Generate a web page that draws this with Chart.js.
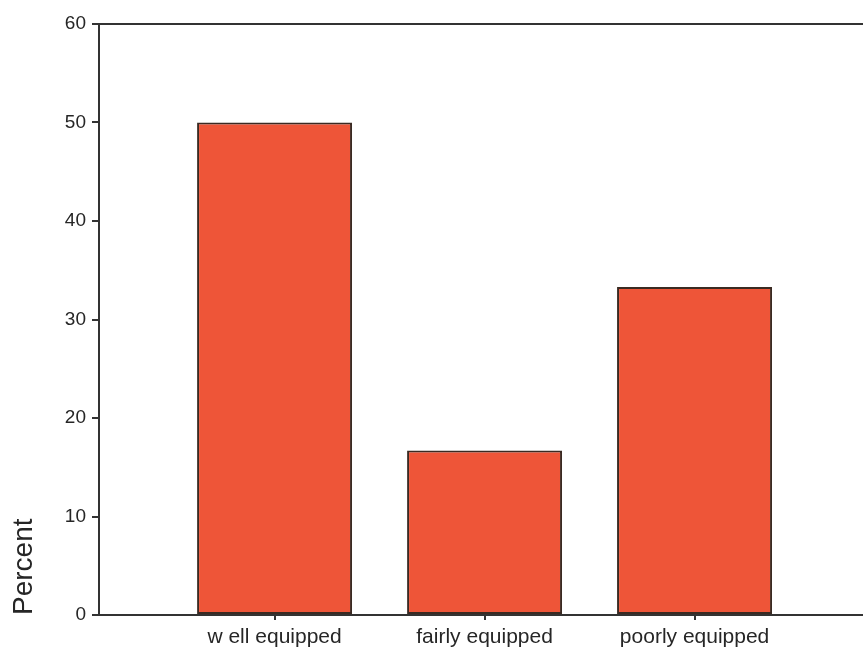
<!DOCTYPE html>
<html>
<head>
<meta charset="utf-8">
<script src="https://cdn.jsdelivr.net/npm/chart.js@4"></script>
<style>
  html, body { margin: 0; padding: 0; background: #ffffff; overflow: hidden; }
  #wrap { width: 863px; height: 654px; }
</style>
</head>
<body>
<div id="wrap"><canvas id="c" width="863" height="654"></canvas></div>
<script>
const categories = ["w ell equipped", "fairly equipped", "poorly equipped"];
const percentValues = [50.0, 16.7, 33.3];
const yTicks = [0, 10, 20, 30, 40, 50, 60];
const yTitle = "Percent";

const FONT = "'Liberation Sans', Arial, Helvetica, sans-serif";
const TEXT = "#262626";
const AXIS = "#333333";

new Chart(document.getElementById('c'), {
  type: 'bar',
  data: {
    datasets: [{
      data: percentValues.map((v, i) => ({ x: i, y: v })),
      backgroundColor: '#ee5538',
      borderColor: '#3a2a22',
      borderWidth: 2,
      borderSkipped: false,
      categoryPercentage: 1.0,
      barPercentage: 0.738
    }]
  },
  options: {
    responsive: false,
    animation: false,
    layout: { padding: { top: 24, right: 0, bottom: 0, left: 0 } },
    plugins: { legend: { display: false }, tooltip: { enabled: false } },
    scales: {
      x: {
        type: 'linear',
        position: 'bottom',
        offset: false,
        bounds: 'data',
        min: -0.836,
        max: 2.802,
        afterBuildTicks: (s) => { s.ticks = categories.map((c, i) => ({ value: i })); },
        afterFit: (s) => { s.height = 39; },
        grid: { offset: false, drawOnChartArea: false, drawTicks: true, tickLength: 5, color: AXIS, lineWidth: 2 },
        border: { display: true, color: AXIS, width: 2 },
        ticks: {
          autoSkip: false, maxRotation: 0, padding: 5,
          color: TEXT, font: { family: FONT, size: 21 },
          callback: (v) => categories[v]
        }
      },
      xTop: {
        type: 'linear',
        position: 'top',
        offset: false,
        bounds: 'data',
        min: -0.836,
        max: 2.802,
        afterFit: (s) => { s.height = 0; },
        grid: { display: false, drawTicks: false },
        border: { display: true, color: AXIS, width: 2 },
        ticks: { display: false }
      },
      y: {
        min: 0,
        max: 60,
        afterBuildTicks: (s) => { s.ticks = yTicks.map(v => ({ value: v })); },
        afterFit: (s) => { s.width = 99; },
        grid: { drawOnChartArea: false, drawTicks: true, tickLength: 7, color: AXIS, lineWidth: 2 },
        border: { display: true, color: AXIS, width: 2 },
        ticks: { padding: 6, color: TEXT, font: { family: FONT, size: 19 } },
        title: {
          display: true, text: yTitle, align: 'start',
          color: TEXT, font: { family: FONT, size: 28 },
          padding: { top: 7, bottom: 0 }
        }
      }
    }
  }
});
</script>
</body>
</html>
